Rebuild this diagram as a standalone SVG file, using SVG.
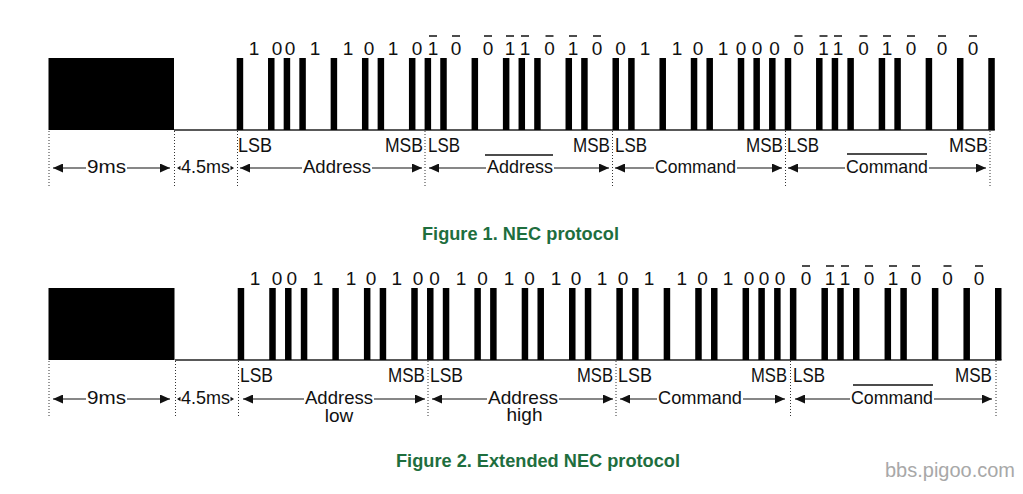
<svg xmlns="http://www.w3.org/2000/svg" width="1023" height="494" viewBox="0 0 1023 494">
<defs>
<style>
.p{fill:#000}
.base{stroke:#222;stroke-width:1.6;fill:none}
.dot{stroke:#333;stroke-width:1;stroke-dasharray:1 2;fill:none}
.bit{font-family:"Liberation Sans",Arial,sans-serif;font-size:19px;fill:#111;text-anchor:middle}
.lbl{font-family:"Liberation Sans",Arial,sans-serif;font-size:21px;fill:#111}
.ar{font-family:"Liberation Sans",Arial,sans-serif;font-size:19px;fill:#111}
.arc{font-family:"Liberation Sans",Arial,sans-serif;font-size:19px;fill:#111;text-anchor:middle}
.ob{stroke:#111;stroke-width:1.5}
.sh{stroke:#111;stroke-width:1.2;fill:none;marker-end:url(#ah)}
.cap{font-family:"Liberation Sans",Arial,sans-serif;font-size:18px;font-weight:bold;fill:#1e6e3e}
.wm{font-family:"Liberation Sans",Arial,sans-serif;font-size:20px;fill:#a8a8a8}
</style>
<marker id="ah" viewBox="0 0 10 9" refX="10" refY="4.5" markerWidth="10" markerHeight="9" markerUnits="userSpaceOnUse" orient="auto"><path d="M0,0 L10,4.5 L0,9 z" fill="#111"/></marker>
</defs>
<rect width="1023" height="494" fill="#fff"/>

<!-- Figure 1 -->
<g id="fig1-wave">
<line class="base" x1="174" y1="130" x2="994.8" y2="130"/>
<rect class="p" x="48.5" y="58" width="125.5" height="72"/>
<rect class="p" x="236.7" y="58" width="6.5" height="72"/>
<rect class="p" x="268.02" y="58" width="6.5" height="72"/>
<rect class="p" x="283.67" y="58" width="6.5" height="72"/>
<rect class="p" x="299.33" y="58" width="6.5" height="72"/>
<rect class="p" x="330.65" y="58" width="6.5" height="72"/>
<rect class="p" x="361.96" y="58" width="6.5" height="72"/>
<rect class="p" x="377.62" y="58" width="6.5" height="72"/>
<rect class="p" x="408.94" y="58" width="6.5" height="72"/>
<rect class="p" x="424.6" y="58" width="6.5" height="72"/>
<rect class="p" x="440.25" y="58" width="6.5" height="72"/>
<rect class="p" x="471.57" y="58" width="6.5" height="72"/>
<rect class="p" x="502.89" y="58" width="6.5" height="72"/>
<rect class="p" x="518.54" y="58" width="6.5" height="72"/>
<rect class="p" x="534.2" y="58" width="6.5" height="72"/>
<rect class="p" x="565.52" y="58" width="6.5" height="72"/>
<rect class="p" x="581.18" y="58" width="6.5" height="72"/>
<rect class="p" x="612.49" y="58" width="6.5" height="72"/>
<rect class="p" x="628.15" y="58" width="6.5" height="72"/>
<rect class="p" x="659.47" y="58" width="6.5" height="72"/>
<rect class="p" x="690.78" y="58" width="6.5" height="72"/>
<rect class="p" x="706.44" y="58" width="6.5" height="72"/>
<rect class="p" x="737.76" y="58" width="6.5" height="72"/>
<rect class="p" x="753.41" y="58" width="6.5" height="72"/>
<rect class="p" x="769.07" y="58" width="6.5" height="72"/>
<rect class="p" x="784.73" y="58" width="6.5" height="72"/>
<rect class="p" x="816.05" y="58" width="6.5" height="72"/>
<rect class="p" x="831.7" y="58" width="6.5" height="72"/>
<rect class="p" x="847.36" y="58" width="6.5" height="72"/>
<rect class="p" x="878.68" y="58" width="6.5" height="72"/>
<rect class="p" x="894.34" y="58" width="6.5" height="72"/>
<rect class="p" x="925.65" y="58" width="6.5" height="72"/>
<rect class="p" x="956.97" y="58" width="6.5" height="72"/>
<rect class="p" x="988.28" y="58" width="6.5" height="72"/>
</g>
<g id="fig1-bits">
<text class="bit" x="254" y="55">1</text><text class="bit" x="277" y="55">0</text><text class="bit" x="290" y="55">0</text><text class="bit" x="315" y="55">1</text>
<text class="bit" x="348" y="55">1</text><text class="bit" x="369" y="55">0</text><text class="bit" x="393" y="55">1</text><text class="bit" x="417" y="55">0</text>
<text class="bit" x="433" y="55">1</text><text class="bit" x="456" y="55">0</text><text class="bit" x="488" y="55">0</text><text class="bit" x="510" y="55">1</text>
<text class="bit" x="525" y="55">1</text><text class="bit" x="549.5" y="55">0</text><text class="bit" x="573" y="55">1</text><text class="bit" x="597" y="55">0</text>
<text class="bit" x="620.5" y="55">0</text><text class="bit" x="645" y="55">1</text><text class="bit" x="677" y="55">1</text><text class="bit" x="698" y="55">0</text>
<text class="bit" x="723" y="55">1</text><text class="bit" x="741" y="55">0</text><text class="bit" x="757" y="55">0</text><text class="bit" x="774.5" y="55">0</text>
<text class="bit" x="798.5" y="55">0</text><text class="bit" x="823.5" y="55">1</text><text class="bit" x="838" y="55">1</text><text class="bit" x="863.5" y="55">0</text>
<text class="bit" x="887" y="55">1</text><text class="bit" x="911" y="55">0</text><text class="bit" x="942" y="55">0</text><text class="bit" x="973" y="55">0</text>
<g class="ob">
<line x1="429" y1="36" x2="437" y2="36"/><line x1="452" y1="36" x2="460" y2="36"/><line x1="484" y1="36" x2="492" y2="36"/><line x1="506" y1="36" x2="514" y2="36"/>
<line x1="521" y1="36" x2="529" y2="36"/><line x1="545.5" y1="36" x2="553.5" y2="36"/><line x1="569" y1="36" x2="577" y2="36"/><line x1="593" y1="36" x2="601" y2="36"/>
<line x1="794.5" y1="36" x2="802.5" y2="36"/><line x1="819.5" y1="36" x2="827.5" y2="36"/><line x1="834" y1="36" x2="842" y2="36"/><line x1="859.5" y1="36" x2="867.5" y2="36"/>
<line x1="883" y1="36" x2="891" y2="36"/><line x1="907" y1="36" x2="915" y2="36"/><line x1="938" y1="36" x2="946" y2="36"/><line x1="969" y1="36" x2="977" y2="36"/>
</g>
</g>
<g id="fig1-marks">
<line class="dot" x1="49" y1="131" x2="49" y2="186"/>
<line class="dot" x1="174.5" y1="131" x2="174.5" y2="186"/>
<line class="dot" x1="237.5" y1="131" x2="237.5" y2="186"/>
<line class="dot" x1="425" y1="131" x2="425" y2="186"/>
<line class="dot" x1="612.5" y1="131" x2="612.5" y2="186"/>
<line class="dot" x1="785.5" y1="131" x2="785.5" y2="186"/>
<line class="dot" x1="990" y1="131" x2="990" y2="186"/>
<text class="lbl" x="238" y="152" textLength="34" lengthAdjust="spacingAndGlyphs">LSB</text>
<text class="lbl" x="385" y="152" textLength="38" lengthAdjust="spacingAndGlyphs">MSB</text>
<text class="lbl" x="428" y="152" textLength="32" lengthAdjust="spacingAndGlyphs">LSB</text>
<text class="lbl" x="573" y="152" textLength="37" lengthAdjust="spacingAndGlyphs">MSB</text>
<text class="lbl" x="615" y="152" textLength="32" lengthAdjust="spacingAndGlyphs">LSB</text>
<text class="lbl" x="746" y="152" textLength="37" lengthAdjust="spacingAndGlyphs">MSB</text>
<text class="lbl" x="787" y="152" textLength="32" lengthAdjust="spacingAndGlyphs">LSB</text>
<text class="lbl" x="949" y="152" textLength="39" lengthAdjust="spacingAndGlyphs">MSB</text>
</g>
<g id="fig1-spans">
<text class="ar" x="87" y="173" textLength="39" lengthAdjust="spacingAndGlyphs">9ms</text>
<text class="ar" x="181" y="173" textLength="49" lengthAdjust="spacingAndGlyphs">4.5ms</text>
<text class="ar" x="303" y="173" textLength="68" lengthAdjust="spacingAndGlyphs">Address</text>
<text class="ar" x="487" y="173" textLength="66" lengthAdjust="spacingAndGlyphs">Address</text>
<line class="ob" x1="485" y1="155" x2="553" y2="155"/>
<text class="ar" x="655" y="173" textLength="81" lengthAdjust="spacingAndGlyphs">Command</text>
<text class="ar" x="846" y="173" textLength="82" lengthAdjust="spacingAndGlyphs">Command</text>
<line class="ob" x1="847" y1="154" x2="927" y2="154"/>
</g>

<!-- Figure 2 -->
<g id="fig2-wave">
<line class="base" x1="175" y1="360" x2="1001.5" y2="360"/>
<rect class="p" x="48.5" y="288" width="126" height="72"/>
<rect class="p" x="237.7" y="288" width="6.5" height="72"/>
<rect class="p" x="269.25" y="288" width="6.5" height="72"/>
<rect class="p" x="285.03" y="288" width="6.5" height="72"/>
<rect class="p" x="300.81" y="288" width="6.5" height="72"/>
<rect class="p" x="332.36" y="288" width="6.5" height="72"/>
<rect class="p" x="363.92" y="288" width="6.5" height="72"/>
<rect class="p" x="379.69" y="288" width="6.5" height="72"/>
<rect class="p" x="411.25" y="288" width="6.5" height="72"/>
<rect class="p" x="427.02" y="288" width="6.5" height="72"/>
<rect class="p" x="442.8" y="288" width="6.5" height="72"/>
<rect class="p" x="474.36" y="288" width="6.5" height="72"/>
<rect class="p" x="490.13" y="288" width="6.5" height="72"/>
<rect class="p" x="521.69" y="288" width="6.5" height="72"/>
<rect class="p" x="537.46" y="288" width="6.5" height="72"/>
<rect class="p" x="569.02" y="288" width="6.5" height="72"/>
<rect class="p" x="584.79" y="288" width="6.5" height="72"/>
<rect class="p" x="616.35" y="288" width="6.5" height="72"/>
<rect class="p" x="632.13" y="288" width="6.5" height="72"/>
<rect class="p" x="663.68" y="288" width="6.5" height="72"/>
<rect class="p" x="695.23" y="288" width="6.5" height="72"/>
<rect class="p" x="711.01" y="288" width="6.5" height="72"/>
<rect class="p" x="742.56" y="288" width="6.5" height="72"/>
<rect class="p" x="758.34" y="288" width="6.5" height="72"/>
<rect class="p" x="774.12" y="288" width="6.5" height="72"/>
<rect class="p" x="789.9" y="288" width="6.5" height="72"/>
<rect class="p" x="821.45" y="288" width="6.5" height="72"/>
<rect class="p" x="837.23" y="288" width="6.5" height="72"/>
<rect class="p" x="853" y="288" width="6.5" height="72"/>
<rect class="p" x="884.56" y="288" width="6.5" height="72"/>
<rect class="p" x="900.33" y="288" width="6.5" height="72"/>
<rect class="p" x="931.89" y="288" width="6.5" height="72"/>
<rect class="p" x="963.44" y="288" width="6.5" height="72"/>
<rect class="p" x="995" y="288" width="6.5" height="72"/>
</g>
<g id="fig2-bits">
<text class="bit" x="255" y="285">1</text><text class="bit" x="277" y="285">0</text><text class="bit" x="291.7" y="285">0</text><text class="bit" x="318" y="285">1</text>
<text class="bit" x="351" y="285">1</text><text class="bit" x="371" y="285">0</text><text class="bit" x="396.7" y="285">1</text><text class="bit" x="418" y="285">0</text>
<text class="bit" x="434.5" y="285">0</text><text class="bit" x="461" y="285">1</text><text class="bit" x="482.5" y="285">0</text><text class="bit" x="509" y="285">1</text>
<text class="bit" x="529.5" y="285">0</text><text class="bit" x="556" y="285">1</text><text class="bit" x="576" y="285">0</text><text class="bit" x="602" y="285">1</text>
<text class="bit" x="623" y="285">0</text><text class="bit" x="649" y="285">1</text><text class="bit" x="681.7" y="285">1</text><text class="bit" x="702.5" y="285">0</text>
<text class="bit" x="728" y="285">1</text><text class="bit" x="749" y="285">0</text><text class="bit" x="764" y="285">0</text><text class="bit" x="780" y="285">0</text>
<text class="bit" x="806" y="285">0</text><text class="bit" x="830" y="285">1</text><text class="bit" x="845" y="285">1</text><text class="bit" x="869" y="285">0</text>
<text class="bit" x="893" y="285">1</text><text class="bit" x="916" y="285">0</text><text class="bit" x="947.5" y="285">0</text><text class="bit" x="979" y="285">0</text>
<g class="ob">
<line x1="802" y1="266" x2="810" y2="266"/><line x1="826" y1="266" x2="834" y2="266"/><line x1="841" y1="266" x2="849" y2="266"/><line x1="865" y1="266" x2="873" y2="266"/>
<line x1="889" y1="266" x2="897" y2="266"/><line x1="912" y1="266" x2="920" y2="266"/><line x1="943.5" y1="266" x2="951.5" y2="266"/><line x1="975" y1="266" x2="983" y2="266"/>
</g>
</g>
<g id="fig2-marks">
<line class="dot" x1="49" y1="361" x2="49" y2="416"/>
<line class="dot" x1="175.5" y1="361" x2="175.5" y2="416"/>
<line class="dot" x1="238.5" y1="361" x2="238.5" y2="416"/>
<line class="dot" x1="428" y1="361" x2="428" y2="416"/>
<line class="dot" x1="616" y1="361" x2="616" y2="416"/>
<line class="dot" x1="790.5" y1="361" x2="790.5" y2="416"/>
<line class="dot" x1="996" y1="361" x2="996" y2="416"/>
<text class="lbl" x="240" y="382" textLength="33" lengthAdjust="spacingAndGlyphs">LSB</text>
<text class="lbl" x="388" y="382" textLength="37" lengthAdjust="spacingAndGlyphs">MSB</text>
<text class="lbl" x="430" y="382" textLength="33" lengthAdjust="spacingAndGlyphs">LSB</text>
<text class="lbl" x="577" y="382" textLength="36" lengthAdjust="spacingAndGlyphs">MSB</text>
<text class="lbl" x="618" y="382" textLength="34" lengthAdjust="spacingAndGlyphs">LSB</text>
<text class="lbl" x="751" y="382" textLength="36" lengthAdjust="spacingAndGlyphs">MSB</text>
<text class="lbl" x="793" y="382" textLength="32" lengthAdjust="spacingAndGlyphs">LSB</text>
<text class="lbl" x="955" y="382" textLength="37" lengthAdjust="spacingAndGlyphs">MSB</text>
</g>
<g id="fig2-spans">
<text class="ar" x="87" y="404" textLength="39" lengthAdjust="spacingAndGlyphs">9ms</text>
<text class="ar" x="181" y="404" textLength="49" lengthAdjust="spacingAndGlyphs">4.5ms</text>
<text class="ar" x="305" y="404" textLength="68" lengthAdjust="spacingAndGlyphs">Address</text>
<text class="arc" x="339" y="422">low</text>
<text class="ar" x="488" y="404" textLength="70" lengthAdjust="spacingAndGlyphs">Address</text>
<text class="arc" x="524.5" y="421">high</text>
<text class="ar" x="658" y="404" textLength="84" lengthAdjust="spacingAndGlyphs">Command</text>
<text class="ar" x="851" y="404" textLength="82" lengthAdjust="spacingAndGlyphs">Command</text>
<line class="ob" x1="853" y1="385" x2="933" y2="385"/>
</g>

<g id="connectors">
<line class="sh" x1="86" y1="168" x2="53" y2="168"/>
<line class="sh" x1="127" y1="168" x2="170" y2="168"/>
<polygon points="177,168 180.5,165.8 180.5,170.2" fill="#111"/>
<polygon points="234,168 230.5,165.8 230.5,170.2" fill="#111"/>
<line class="sh" x1="302" y1="168" x2="240" y2="168"/>
<line class="sh" x1="372" y1="168" x2="422" y2="168"/>
<line class="sh" x1="486" y1="168" x2="429" y2="168"/>
<line class="sh" x1="554" y1="168" x2="609" y2="168"/>
<line class="sh" x1="654" y1="168" x2="615" y2="168"/>
<line class="sh" x1="737" y1="168" x2="782" y2="168"/>
<line class="sh" x1="845" y1="168" x2="788" y2="168"/>
<line class="sh" x1="929" y1="168" x2="986" y2="168"/>

<line class="sh" x1="86" y1="399" x2="53" y2="399"/>
<line class="sh" x1="127" y1="399" x2="170" y2="399"/>
<polygon points="177,399 180.5,396.8 180.5,401.2" fill="#111"/>
<polygon points="234,399 230.5,396.8 230.5,401.2" fill="#111"/>
<line class="sh" x1="304" y1="399" x2="243" y2="399"/>
<line class="sh" x1="374" y1="399" x2="425" y2="399"/>
<line class="sh" x1="487" y1="399" x2="432" y2="399"/>
<line class="sh" x1="559" y1="399" x2="613" y2="399"/>
<line class="sh" x1="657" y1="399" x2="620" y2="399"/>
<line class="sh" x1="743" y1="399" x2="785" y2="399"/>
<line class="sh" x1="850" y1="399" x2="795" y2="399"/>
<line class="sh" x1="934" y1="399" x2="992" y2="399"/>
</g>

<g id="captions">
<text class="cap" x="422" y="240" textLength="197" lengthAdjust="spacingAndGlyphs">Figure 1. NEC protocol</text>
<text class="cap" x="396" y="467" textLength="284" lengthAdjust="spacingAndGlyphs">Figure 2. Extended NEC protocol</text>
<text class="wm" x="885" y="477" textLength="130" lengthAdjust="spacingAndGlyphs">bbs.pigoo.com</text>
</g>
</svg>
